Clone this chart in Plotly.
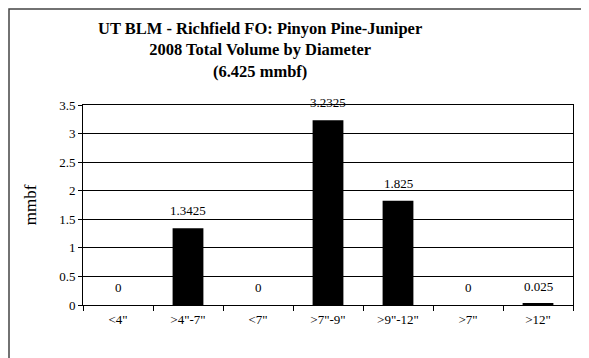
import plotly.graph_objects as go

categories = ['<4"', '>4"-7"', '<7"', '>7"-9"', '>9"-12"', '>7"', '>12"']
values = [0, 1.3425, 0, 3.2325, 1.825, 0, 0.025]
labels = ["0", "1.3425", "0", "3.2325", "1.825", "0", "0.025"]
y_ticks = [0, 0.5, 1, 1.5, 2, 2.5, 3, 3.5]
y_ticktext = ["0", "0.5", "1", "1.5", "2", "2.5", "3", "3.5"]

W, H = 589, 358
OFF = 8  # page body margin
L, R, T, B = 83 - OFF, 16 + OFF, 105 - OFF, 53 + OFF
PW, PH = W - L - R, H - T - B


def px_x(x):
    return (x - OFF - L) / PW


def px_y(y):
    return (H - B - (y - OFF)) / PH


fig = go.Figure(go.Bar(
    x=categories, y=values, width=0.44,
    marker=dict(color="black", line=dict(width=0)),
    hoverinfo="x+y",
))

for c, v, t in zip(categories, values, labels):
    fig.add_annotation(
        x=c, y=v, xref="x", yref="y", text=t, showarrow=False,
        yanchor="bottom", yshift=8,
        font=dict(family="Liberation Serif", size=13, color="black"),
    )

fig.add_annotation(
    text="<b>UT BLM - Richfield FO: Pinyon Pine-Juniper<br>2008 Total Volume by Diameter<br>(6.425 mmbf)</b>",
    xref="paper", yref="paper",
    x=px_x(260), y=px_y(17),
    xanchor="center", yanchor="top", showarrow=False,
    font=dict(size=16.5, family="Liberation Serif", color="black"),
)

fig.update_layout(
    width=W, height=H,
    margin=dict(l=L, r=R, t=T, b=B, autoexpand=False),
    paper_bgcolor="white", plot_bgcolor="white",
    showlegend=False,
    font=dict(family="Liberation Serif", color="black"),
    xaxis=dict(
        type="category", tickson="boundaries", ticks="outside", ticklen=5,
        tickcolor="black", linecolor="black", linewidth=1, mirror=True,
        showgrid=False, tickfont=dict(size=13, family="Liberation Serif"),
        ticklabelstandoff=2, automargin=False,
    ),
    yaxis=dict(
        range=[0, 3.5], tickvals=y_ticks, ticktext=y_ticktext,
        ticks="outside", ticklen=4, tickcolor="black",
        linecolor="black", linewidth=1, mirror=True,
        showgrid=True, gridcolor="black", gridwidth=1,
        tickfont=dict(size=13, family="Liberation Serif"),
        title=dict(text="mmbf", font=dict(size=17, family="Liberation Serif"), standoff=18),
        zeroline=False, automargin=False,
    ),
    shapes=[dict(
        type="rect", xref="paper", yref="paper",
        x0=(1 - L) / PW, x1=px_x(586),
        y0=px_y(H + 20), y1=(H - B - 1) / PH,
        line=dict(color="#444444", width=1.5), layer="below",
    )],
)

fig.write_html("out.html")
